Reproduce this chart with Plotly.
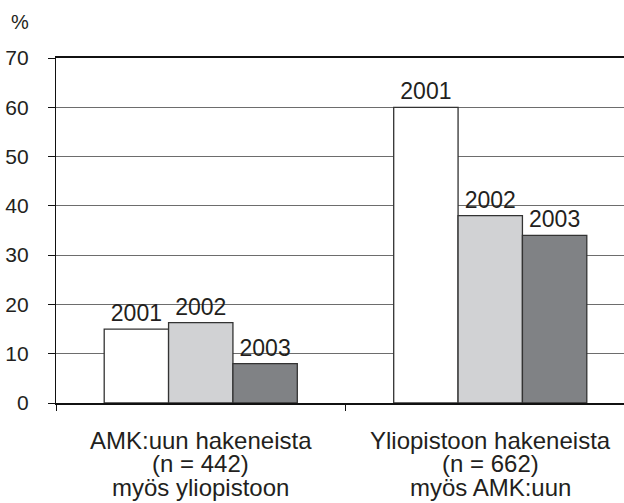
import plotly.graph_objects as go

categories = ["AMK:uun hakeneista<br>(n = 442)<br>myös yliopistoon",
              "Yliopistoon hakeneista<br>(n = 662)<br>myös AMK:uun"]
years = ["2001", "2002", "2003"]
values = {
    "2001": [15, 60],
    "2002": [16.3, 38],
    "2003": [8, 34],
}
colors = {"2001": "#ffffff", "2002": "#d1d2d4", "2003": "#808285"}
y_ticks = [0, 10, 20, 30, 40, 50, 60, 70]

FONT = "Liberation Sans, Arial, sans-serif"
TXT = "#231f20"

fig = go.Figure()
for yr in years:
    fig.add_trace(go.Bar(
        x=categories, y=values[yr], name=yr,
        marker=dict(color=colors[yr], line=dict(color="#333333", width=1.3)),
        text=[yr] * len(categories), textposition="outside",
        textfont=dict(family=FONT, size=23, color=TXT),
        constraintext="none", cliponaxis=False,
    ))

annotations = [dict(text="%", xref="paper", yref="paper", x=-0.0634, y=1.105,
                    xanchor="center", yanchor="middle", showarrow=False,
                    font=dict(family=FONT, size=20, color=TXT))]
# category labels, one annotation per line (tighter line spacing than tick labels)
for cat in categories:
    for i, line in enumerate(cat.split("<br>")):
        annotations.append(dict(
            text=line, x=cat, xref="x", y=0, yref="paper",
            yshift=-37 - 23.5 * i, xanchor="center", yanchor="middle",
            showarrow=False, font=dict(family=FONT, size=24, color=TXT)))

fig.update_layout(
    width=624, height=503,
    margin=dict(l=56, r=0, t=58, b=100),
    paper_bgcolor="white", plot_bgcolor="white",
    barmode="group", bargap=0.333, bargroupgap=0,
    showlegend=False,
    font=dict(family=FONT, size=21, color=TXT),
    annotations=annotations,
)
fig.update_xaxes(
    range=[-0.5, -0.5 + 568 / 289.5],
    showline=True, linecolor="#111111", linewidth=1.7, mirror=True,
    ticks="outside", tickson="boundaries", ticklen=6, tickcolor="#111111", tickwidth=1.2,
    showgrid=False, showticklabels=False, automargin=False,
)
fig.update_yaxes(
    range=[0, 70], tickvals=y_ticks,
    showline=True, linecolor="#111111", linewidth=1.3,
    ticks="outside", ticklen=7, tickcolor="#111111", tickwidth=1.2,
    showgrid=True, gridcolor="#6d6d6d", gridwidth=1.3,
    zeroline=False, tickfont=dict(family=FONT, size=21, color=TXT),
    ticklabelstandoff=15, automargin=False,
)

fig.write_html("out.html", config={"displayModeBar": False},
               post_script="document.body.style.margin='0';document.body.style.overflow='hidden';")
